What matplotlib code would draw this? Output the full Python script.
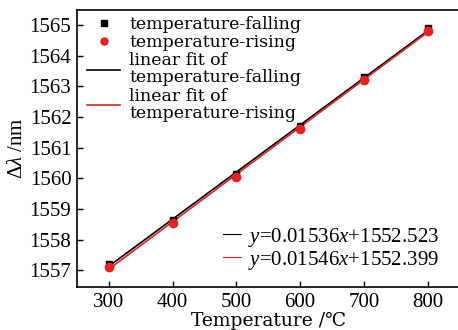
import numpy as np
import matplotlib.pyplot as plt
from matplotlib.lines import Line2D

plt.rcParams['font.family'] = ['Liberation Serif', 'DejaVu Serif']
plt.rcParams['mathtext.fontset'] = 'custom'
plt.rcParams['mathtext.it'] = 'Liberation Serif:italic'
plt.rcParams['mathtext.rm'] = 'Liberation Serif'

temps = [300, 400, 500, 600, 700, 800]
falling = [1557.2, 1558.65, 1560.15, 1561.7, 1563.3, 1564.9]
rising = [1557.1, 1558.55, 1560.05, 1561.6, 1563.2, 1564.8]

# fitted coefficients (slope, intercept)
fit_falling = (0.01536, 1552.523)
fit_rising = (0.01546, 1552.399)

red = '#e8201e'

fig = plt.figure(figsize=(4.58, 3.3), dpi=100)
ax = fig.add_axes([0.168, 0.130, 0.835, 0.840])

x = np.array(temps)
ax.plot(x, fit_falling[0] * x + fit_falling[1], color='black', lw=1.2, zorder=2)
ax.plot(x, fit_rising[0] * x + fit_rising[1], color=red, lw=1.2, zorder=3)
ax.plot(temps, falling, 's', color='black', ms=5, zorder=4)
ax.plot(temps, rising, 'o', color=red, ms=6, zorder=5)

ax.set_xlim(250, 850)
ax.set_ylim(1556.45, 1565.5)
ax.set_xticks(temps)
ax.set_yticks(range(1557, 1566))
ax.tick_params(direction='in', length=4, width=1, labelsize=15, pad=4)
ax.spines['right'].set_visible(False)
for s in ['left', 'bottom', 'top']:
    ax.spines[s].set_linewidth(1.2)

ax.set_xlabel('Temperature /\u2103', fontsize=13.5, labelpad=0,
              family=['DejaVu Serif'])
ax.set_ylabel(r'$\Delta\lambda$ /nm', fontsize=15, labelpad=2)

h1 = [
    Line2D([], [], marker='s', color='black', ls='none', ms=4),
    Line2D([], [], marker='o', color=red, ls='none', ms=5),
    Line2D([], [], color='black', lw=1.2),
    Line2D([], [], color=red, lw=1.2),
]
l1 = ax.legend(h1, ['temperature-falling', 'temperature-rising',
                    'linear fit of\ntemperature-falling',
                    'linear fit of\ntemperature-rising'],
               loc='upper left', bbox_to_anchor=(0.0, 1.017), frameon=False,
               prop={'family': 'DejaVu Serif', 'size': 12.5},
               handlelength=1.9, handletextpad=0.5,
               labelspacing=0.08, borderaxespad=0.2)
for t in l1.get_texts():
    t.set_linespacing(1.0)
ax.add_artist(l1)

h2 = [Line2D([], [], color='black', lw=0.8),
      Line2D([], [], color=red, lw=0.8)]
ax.legend(h2, [r'$y$=0.01536$x$+1552.523', r'$y$=0.01546$x$+1552.399'],
          loc='lower right', bbox_to_anchor=(0.995, -0.012), frameon=False,
          fontsize=15, handlelength=0.9, handletextpad=0.3,
          labelspacing=0.0)

fig.savefig('out.png', dpi=100)
